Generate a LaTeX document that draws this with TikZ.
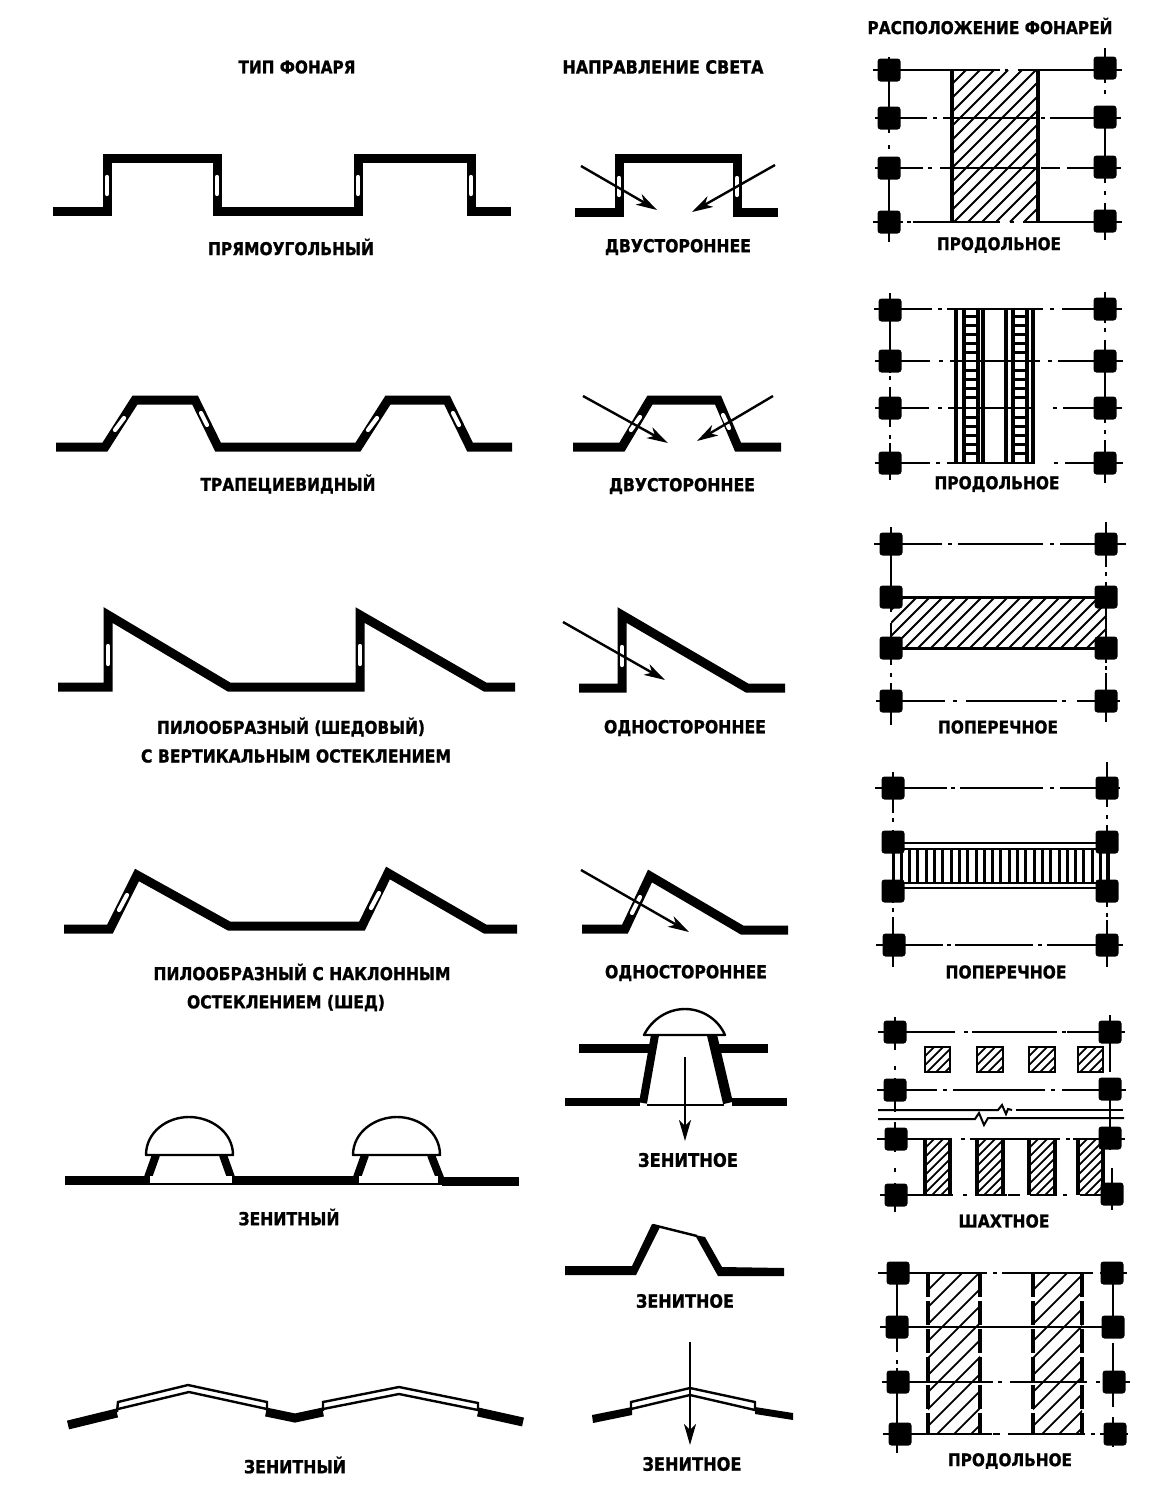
\documentclass[tikz,border=0pt]{standalone}
\usepackage{fontspec}
\setmainfont{DejaVu Sans}[BoldFont={DejaVu Sans Bold},BoldFeatures={FakeBold=1.2}]
\usetikzlibrary{arrows.meta}
\tikzset{
  x=1pt,y=-1pt,
  roof/.style={line width=9pt,line join=miter,line cap=butt,black},
  thinroof/.style={line width=2.4pt,line join=miter,black},
  slitline/.style={line width=4.2pt,white,line cap=round},
  ray/.style={line width=2.4pt,-{Stealth[length=21pt,width=12pt,inset=6pt]},black},
  axisline/.style={line width=2.5pt,black},
  hatchline/.style={line width=1.8pt,black},
  colbox/.style={fill=black,rounded corners=3pt,minimum size=23pt,inner sep=0pt,draw=none},
  labeltext/.style={inner sep=0pt,font=\bfseries,black},
  dome/.style={line width=2.4pt,draw=black,fill=white,line join=round},
  lanternline/.style={line width=3.6pt,black},
  rungline/.style={line width=3pt,black}
}
\newcommand{\lab}[5]{\node[labeltext] (#1) at (#2,#3) {\resizebox{#4pt}{!}{\scalebox{1}[1.14]{#5}}};}
\newcommand{\slit}[4]{\draw[slitline] (#1,#2) -- (#3,#4);}
\newcommand{\hsegs}[2]{\foreach \sa/\sb in {#2} {\draw[axisline] (\sa,#1) -- (\sb,#1);}}
\newcommand{\vsegs}[2]{\foreach \sa/\sb in {#2} {\draw[axisline] (#1,\sa) -- (#1,\sb);}}
\newcommand{\colm}[3]{\node[colbox] (#1) at (#2,#3) {};}
\newcommand{\hatch}[5]{%
  \begin{scope}
  \clip (#1,#2) rectangle (#3,#4);
  \pgfmathsetmacro\hatchH{#4-#2}
  \pgfmathsetmacro\hatchA{#1-\hatchH}
  \pgfmathsetmacro\hatchB{\hatchA+#5}
  \foreach \q in {\hatchA,\hatchB,...,#3} {\draw[hatchline] (\q,#4) -- (\q+\hatchH,#2);}
  \end{scope}}
\begin{document}
\begin{tikzpicture}
\useasboundingbox (0,0) rectangle (1166,1508);
\fill[white] (0,0) rectangle (1166,1508);

% headers
\lab{h1}{297}{67}{117}{ТИП ФОНАРЯ}
\lab{h2}{663}{67}{201}{НАПРАВЛЕНИЕ СВЕТА}
\lab{h3}{990}{26}{245}{РАСПОЛОЖЕНИЕ ФОНАРЕЙ}

% row 1
\draw[roof] (53,211) -- (107,211) -- (107,158) -- (217,158) -- (217,211) -- (358,211) -- (358,158) -- (471,158) -- (471,211) -- (511,211);
\slit{107}{177}{107}{194}\slit{217}{177}{217}{194}\slit{358}{177}{358}{194}\slit{471}{177}{471}{194}
\draw[roof] (575,212) -- (619,212) -- (619,158) -- (737,158) -- (737,212) -- (778,212);
\slit{619}{178}{619}{195}\slit{737}{178}{737}{195}
\draw[ray] (581,166) -- (657,210);
\draw[ray] (775,165) -- (692,212);
\lab{t11}{291}{247}{166}{ПРЯМОУГОЛЬНЫЙ}
\lab{t12}{678}{247}{146}{ДВУСТОРОННЕЕ}
\lab{t13}{999}{245}{124}{ПРОДОЛЬНОЕ}

% row 2
\draw[roof] (56,447) -- (105,447) -- (135,400) -- (195,400) -- (218,447) -- (358,447) -- (388,400) -- (447,400) -- (470,447) -- (512,447);
\slit{115}{430}{124}{418}\slit{201}{413}{207}{425}\slit{368}{430}{377}{418}\slit{453}{413}{459}{425}
\draw[roof] (573,447) -- (622,447) -- (650,400) -- (718,400) -- (738,447) -- (781,447);
\slit{631}{430}{640}{417}\slit{723}{415}{729}{428}
\draw[ray] (583,396) -- (668,443);
\draw[ray] (773,396) -- (697,441);
\lab{t21}{288}{484}{175}{ТРАПЕЦИЕВИДНЫЙ}
\lab{t22}{682}{486}{146}{ДВУСТОРОННЕЕ}
\lab{t23}{997}{484}{125}{ПРОДОЛЬНОЕ}

% row 3
\draw[roof] (58,687) -- (108,687) -- (108,615) -- (229,687) -- (360,687) -- (360,615) -- (485,687) -- (515,687);
\slit{108}{646}{108}{664}\slit{360}{646}{360}{664}
\draw[roof] (579,688) -- (622,688) -- (622,615) -- (747,688) -- (785,688);
\slit{622}{647}{622}{665}
\draw[ray] (563,622) -- (665,680);
\lab{t31}{291}{727}{268}{ПИЛООБРАЗНЫЙ (ШЕДОВЫЙ)}
\lab{t32}{296}{756}{310}{С ВЕРТИКАЛЬНЫМ ОСТЕКЛЕНИЕМ}
\lab{t33}{685}{728}{162}{ОДНОСТОРОННЕЕ}
\lab{t34}{998}{727}{120}{ПОПЕРЕЧНОЕ}

% row 4
\draw[roof] (64,929) -- (110,929) -- (137,875) -- (229,926) -- (362,926) -- (388,873) -- (485,929) -- (517,929);
\slit{119}{910}{127}{895}\slit{371}{908}{379}{893}
\draw[roof] (582,929) -- (625,929) -- (650,876) -- (742,930) -- (788,930);
\slit{632}{913}{640}{897}
\draw[ray] (581,870) -- (689,932);
\lab{t41}{302}{972}{297}{ПИЛООБРАЗНЫЙ С НАКЛОННЫМ}
\lab{t42}{286}{1003}{198}{ОСТЕКЛЕНИЕМ (ШЕД)}
\lab{t43}{686}{973}{162}{ОДНОСТОРОННЕЕ}
\lab{t44}{1006}{972}{121}{ПОПЕРЕЧНОЕ}

% row 5 left
\draw[roof] (65,1180) -- (146,1180);
\draw[roof] (232,1180) -- (355,1180);
\draw[roof] (442,1181) -- (519,1181);
\draw[line width=8pt] (156,1155) -- (146,1183);
\draw[line width=8pt] (223,1155) -- (233,1183);
\draw[line width=8pt] (365,1155) -- (355,1183);
\draw[line width=8pt] (431,1155) -- (442,1183);
\fill[white] (150,1183) -- (232,1183) -- (232,1176) -- (150,1176) -- cycle;
\fill[white] (359,1183) -- (438,1183) -- (438,1176) -- (359,1176) -- cycle;
\draw[line width=1.6pt] (146,1184) -- (233,1184) (355,1184) -- (442,1184);
\draw[dome] (146,1155) .. controls (146,1132) and (167,1117) .. (189,1117) .. controls (211,1117) and (233,1132) .. (233,1155) -- cycle;
\draw[dome] (353,1155) .. controls (353,1132) and (375,1117) .. (397,1117) .. controls (419,1117) and (440,1132) .. (440,1155) -- cycle;
\lab{t51}{289}{1217}{101}{ЗЕНИТНЫЙ}

% row 5 middle
\draw[line width=9pt,black] (579,1048) -- (651,1048) (715,1048) -- (768,1048);
\draw[line width=8pt,black] (565,1102) -- (640,1102) (732,1102) -- (787,1102);
\draw[line width=8pt,black] (655,1035) -- (643,1103);
\draw[line width=10pt,black] (712,1035) -- (728,1103);
\draw[line width=1.6pt] (647,1105) -- (724,1105);
\draw[dome] (644,1035) .. controls (652,1019) and (668,1009) .. (685,1009) .. controls (702,1009) and (718,1019) .. (725,1035) -- cycle;
\draw[ray] (685,1057) -- (685,1141);
\lab{t52}{688}{1160}{100}{ЗЕНИТНОЕ}

% row 6 middle
\fill[black] (565,1266) -- (632,1266) -- (652,1224) -- (660,1227) -- (636,1275) -- (565,1275) -- cycle;
\draw[thinroof] (653,1225) -- (697,1236);
\fill[black] (695,1235) -- (705,1237) -- (722,1267) -- (784,1268) -- (784,1276) -- (718,1276) -- cycle;
\lab{t62}{685}{1301}{98}{ЗЕНИТНОЕ}

% row 7 middle
\fill[black] (592,1415) -- (632,1407) -- (632,1415) -- (593,1423) -- cycle;
\draw[thinroof] (631,1409) -- (631,1402) -- (690,1388) -- (755,1402) -- (755,1410);
\draw[thinroof] (631,1409) -- (690,1395) -- (755,1410);
\fill[black] (755,1407) -- (793,1413) -- (793,1420) -- (755,1414) -- cycle;
\draw[ray] (690,1342) -- (690,1445);
\lab{t72}{692}{1464}{99}{ЗЕНИТНОЕ}

% row 7 left
\draw[roof] (68,1425) -- (117,1413);
\draw[thinroof] (117,1412) -- (118,1402) -- (188,1385) -- (267,1402) -- (267,1411);
\draw[thinroof] (118,1409) -- (189,1392) -- (267,1409);
\draw[roof] (266,1412) -- (295,1418) -- (323,1412);
\draw[thinroof] (323,1411) -- (323,1402) -- (399,1387) -- (478,1403) -- (478,1411);
\draw[thinroof] (323,1409) -- (399,1394) -- (478,1410);
\draw[roof] (478,1412) -- (523,1422);
\lab{t71}{295}{1465}{102}{ЗЕНИТНЫЙ}

% ---- plan 1
\hatch{952}{70}{1038}{222}{14}
\hsegs{70}{873/1000,1005/1008,1018/1122}
\hsegs{118}{875/927,933/937,943/1037,1041/1045,1050/1121}
\hsegs{168}{875/923,928/932,940/1035,1041/1060,1067/1121}
\hsegs{222}{873/903,907/911,913/1000,1010/1014,1023/1122}
\vsegs{889}{57/133,145/149,157/242}
\vsegs{1105}{48/83,90/94,107/183,191/195,203/240}
\draw[line width=4.5pt] (952,69) -- (952,223) (1038,69) -- (1038,223);
\colm{a1}{889}{70}\colm{a2}{889}{118}\colm{a3}{889}{168}\colm{a4}{889}{222}
\colm{a5}{1105}{68}\colm{a6}{1105}{117}\colm{a7}{1105}{167}\colm{a8}{1105}{221}

% ---- plan 2
\hsegs{309}{874/932,938/942,947/1043,1050/1054,1062/1122}
\hsegs{361}{875/930,939/943,950/1040,1048/1052,1058/1123}
\hsegs{408}{875/929,938/942,948/1035,1053/1057,1063/1122}
\hsegs{463}{875/930,936/940,947/1035,1054/1058,1065/1123}
\vsegs{890}{293/373,376/380,387/427,435/439,443/480}
\vsegs{1105}{292/323,328/332,340/423,430/434,440/483}
\foreach \lx in {956,964,978,983,1006,1013,1027,1033} {\draw[lanternline] (\lx,309) -- (\lx,463);}
\foreach \ry in {316,325,334,343,352,370,379,388,397,417,426,435,444,453} {
  \draw[rungline] (964,\ry) -- (978,\ry);
  \draw[rungline] (1013,\ry) -- (1027,\ry);}
\colm{b1}{890}{310}\colm{b2}{890}{361}\colm{b3}{890}{408}\colm{b4}{890}{463}
\colm{b5}{1105}{309}\colm{b6}{1105}{361}\colm{b7}{1105}{408}\colm{b8}{1105}{463}

% ---- plan 3
\hatch{891}{597}{1106}{648}{13}
\hsegs{544}{874/942,948/952,958/1043,1050/1054,1060/1126}
\hsegs{701}{876/945,953/957,966/1057,1062/1066,1077/1120}
\draw[line width=3pt] (891,597) -- (1106,597) (891,648) -- (1106,648);
\vsegs{891}{527/612,623/665,673/677,683/725}
\vsegs{1106}{522/567,572/576,582/663,666/670,673/722}
\colm{c1}{891}{544}\colm{c2}{891}{597}\colm{c3}{891}{648}\colm{c4}{891}{701}
\colm{c5}{1106}{544}\colm{c6}{1106}{597}\colm{c7}{1106}{648}\colm{c8}{1106}{701}

% ---- plan 4
\hsegs{788}{875/947,951/955,960/1043,1050/1054,1060/1120}
\hsegs{945}{876/943,947/951,955/1033,1038/1042,1047/1123}
\draw[line width=2.6pt] (893,843) -- (1107,843) (893,849) -- (1107,849) (893,883) -- (1107,883) (893,888) -- (1107,888);
\foreach \vb in {893,901.3,...,1109} {\draw[rungline] (\vb,849) -- (\vb,883);}
\vsegs{893}{772/813,818/822,830/903,908/912,917/967}
\vsegs{1107}{762/807,815/819,825/907,913/917,920/967}
\colm{d1}{893}{788}\colm{d2}{893}{842}\colm{d3}{893}{891}\colm{d4}{894}{945}
\colm{d5}{1107}{788}\colm{d6}{1107}{842}\colm{d7}{1107}{891}\colm{d8}{1107}{945}

% ---- plan 5
\hsegs{1032}{878/955,964/968,972/1057,1062/1066,1067/1125}
\hsegs{1090}{877/937,943/947,953/1045,1051/1055,1062/1126}
\hsegs{1139}{877/952,961/965,970/1060,1066/1070,1073/1125}
\hsegs{1195}{880/953,963/967,975/1007,1008/1020,1030/1057,1063/1067,1080/1122}
\foreach \sqx/\sqy in {925/950,977/1003,1029/1055,1078/1103} {
  \hatch{\sqx}{1047}{\sqy}{1072}{9}
  \draw[line width=2.6pt] (\sqx,1047) rectangle (\sqy,1072);
  \hatch{\sqx}{1139}{\sqy}{1195}{9}
  \draw[line width=3.4pt] (\sqx,1139) -- (\sqx,1195) (\sqy,1139) -- (\sqy,1195);
}
\draw[line width=2pt] (878,1110) -- (998,1110) -- (1002,1105) -- (1006,1114) -- (1008,1109) -- (1012,1110);
\draw[line width=2pt] (1016,1110) -- (1123,1110);
\draw[line width=2pt] (878,1119) -- (975,1119) -- (979,1113) -- (984,1125) -- (988,1118) -- (1124,1118);
\vsegs{895}{1017/1050,1066/1070,1078/1112,1122/1152,1168/1172,1183/1212}
\vsegs{1110}{1015/1072,1078/1150}
\vsegs{1112}{1168/1210}
\colm{e1}{895}{1032}\colm{e2}{895}{1090}\colm{e3}{896}{1139}\colm{e4}{896}{1195}
\colm{e5}{1110}{1032}\colm{e6}{1110}{1089}\colm{e7}{1110}{1138}\colm{e8}{1112}{1194}
\lab{t55}{1004}{1221}{91}{ШАХТНОЕ}

% ---- plan 6
\hatch{928}{1273}{980}{1434}{17}
\hatch{1033}{1273}{1082}{1434}{17}
\hsegs{1273}{878/987,993/997,1002/1093,1100/1104,1105/1127}
\hsegs{1327}{880/1123}
\hsegs{1382}{882/993,998/1002,1010/1087,1096/1100,1105/1130}
\hsegs{1434}{883/992,993/1000,1008/1085,1091/1095,1100/1128}
\foreach \sx in {928,980,1033,1082} {\draw[line width=3.4pt,dash pattern=on 24pt off 4pt] (\sx,1273) -- (\sx,1434);}
\vsegs{897}{1262/1352,1360/1364,1368/1453}
\vsegs{1113}{1262/1330,1343/1407,1417/1447}
\colm{f1}{898}{1273}\colm{f2}{897}{1327}\colm{f3}{898}{1382}\colm{f4}{900}{1434}
\colm{f5}{1112}{1273}\colm{f6}{1113}{1327}\colm{f7}{1114}{1382}\colm{f8}{1115}{1434}
\lab{t75}{1010}{1461}{124}{ПРОДОЛЬНОЕ}
\end{tikzpicture}
\end{document}
